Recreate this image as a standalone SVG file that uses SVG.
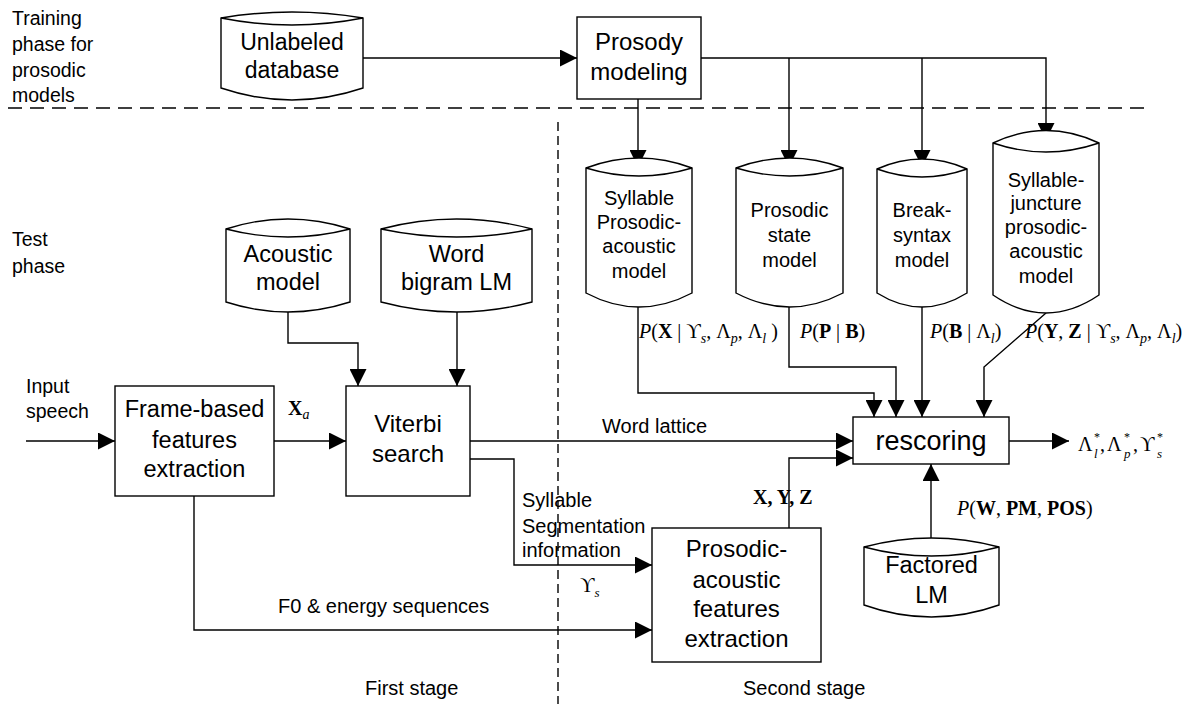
<svg xmlns="http://www.w3.org/2000/svg" width="1197" height="704" viewBox="0 0 1197 704">
<style>
.box{fill:#fff;stroke:#000;stroke-width:1.4}
.cyl{fill:#fff;stroke:#000;stroke-width:1.4}
.ln{fill:none;stroke:#000;stroke-width:1.4}
.arr{fill:none;stroke:#000;stroke-width:1.4;marker-end:url(#ah)}
.dash{fill:none;stroke:#000;stroke-width:1.4}
.t{font-family:"Liberation Sans",Arial,sans-serif;fill:#000}
.m{font-family:"Liberation Serif","Times New Roman",serif;fill:#000;font-size:20px}
.c{text-anchor:middle}
.b{font-weight:bold}
.i{font-style:italic}
</style>
<defs>
<marker id="ah" markerUnits="userSpaceOnUse" markerWidth="17" markerHeight="17" refX="17" refY="8.5" orient="auto">
<path d="M0,0 L17,8.5 L0,17 Z" fill="#000"/>
</marker>
</defs>
<rect width="1197" height="704" fill="#fff"/>

<g id="separators">
<path class="dash" d="M8,108 H1146" stroke-dasharray="14 8"/>
<path class="dash" d="M558,122 V704" stroke-dasharray="9 5"/>
</g>

<g id="phase-labels" class="t" font-size="19.5">
<text x="12" y="25">Training</text>
<text x="12" y="51">phase for</text>
<text x="12" y="77">prosodic</text>
<text x="12" y="102">models</text>
<text x="12" y="246">Test</text>
<text x="12" y="273">phase</text>
<text x="365" y="695" font-size="20">First stage</text>
<text x="743" y="695" font-size="20">Second stage</text>
</g>

<g id="connectors">
<path class="arr" d="M363,58 H577"/>
<path class="arr" d="M638,99 V167"/>
<path class="arr" d="M701,58 H1046 V140"/>
<path class="arr" d="M789,58 V167"/>
<path class="arr" d="M922,58 V167"/>
<path class="arr" d="M638,307 V393 H874 V417"/>
<path class="arr" d="M789,307 V367 H896 V417"/>
<path class="arr" d="M922,307 V417"/>
<path class="arr" d="M1046,313 L984,367 V417"/>
<path class="arr" d="M288,312 V343 H358 V386"/>
<path class="arr" d="M457,312 V386"/>
<path class="arr" d="M26,441 H115"/>
<path class="arr" d="M274,441 H346"/>
<path class="arr" d="M470,441 H853"/>
<path class="arr" d="M470,459 H514 V565 H652"/>
<path class="arr" d="M194,496 V630 H652"/>
<path class="arr" d="M789,528 V458 H853"/>
<path class="arr" d="M931,538 V464"/>
<path class="arr" d="M1009,441 H1069"/>
</g>

<g id="connector-labels">
<text class="t" x="26" y="393" font-size="19.5">Input</text>
<text class="t" x="26" y="418" font-size="19.5">speech</text>
<text class="m" x="288" y="415"><tspan class="b">X</tspan><tspan class="i" font-size="14" dy="4">a</tspan></text>
<text class="t" x="602" y="433" font-size="20">Word lattice</text>
<text class="t" x="522" y="507" font-size="20">Syllable</text>
<text class="t" x="522" y="533" font-size="20">Segmentation</text>
<text class="t" x="522" y="557" font-size="20">information</text>
<text class="m" x="580" y="592">ϒ<tspan class="i" font-size="13" dy="5">s</tspan></text>
<text class="t" x="278" y="613" font-size="20">F0 &amp; energy sequences</text>
<text class="m b" x="753" y="504">X, Y, Z</text>
<text class="m" x="639" y="338"><tspan class="i">P</tspan>(<tspan class="b">X</tspan> | ϒ<tspan class="i" font-size="14" dy="5">s</tspan><tspan dy="-5">, Λ</tspan><tspan class="i" font-size="14" dy="5">p</tspan><tspan dy="-5">, Λ</tspan><tspan class="i" font-size="14" dy="5">l</tspan><tspan dy="-5"> )</tspan></text>
<text class="m" x="800" y="338"><tspan class="i">P</tspan>(<tspan class="b">P</tspan> | <tspan class="b">B</tspan>)</text>
<text class="m" x="930" y="338"><tspan class="i">P</tspan>(<tspan class="b">B</tspan> | Λ<tspan class="i" font-size="14" dy="5">l</tspan><tspan dy="-5">)</tspan></text>
<text class="m" x="1025" y="338"><tspan class="i">P</tspan>(<tspan class="b">Y</tspan>, <tspan class="b">Z</tspan> | ϒ<tspan class="i" font-size="14" dy="5">s</tspan><tspan dy="-5">, Λ</tspan><tspan class="i" font-size="14" dy="5">p</tspan><tspan dy="-5">, Λ</tspan><tspan class="i" font-size="14" dy="5">l</tspan><tspan dy="-5">)</tspan></text>
<text class="m" x="957" y="515"><tspan class="i">P</tspan>(<tspan class="b">W</tspan>, <tspan class="b">PM</tspan>, <tspan class="b">POS</tspan>)</text>
<text class="m" font-size="21"><tspan x="1078" y="451">Λ</tspan><tspan x="1094" y="441" font-size="12">*</tspan><tspan x="1094" y="458" font-size="13" class="i">l</tspan><tspan x="1100" y="451">,</tspan><tspan x="1107" y="451">Λ</tspan><tspan x="1124" y="441" font-size="12">*</tspan><tspan x="1124" y="458" font-size="13" class="i">p</tspan><tspan x="1133" y="451">,</tspan><tspan x="1140" y="451">ϒ</tspan><tspan x="1157" y="441" font-size="12">*</tspan><tspan x="1157" y="458" font-size="13" class="i">s</tspan></text>
</g>

<g id="unlabeled-database">
<path class="cyl" d="M221,18 Q292,6 363,18 L363,88 Q292,112 221,88 Z"/>
<path class="ln" d="M221,18 Q292,32 363,18"/>
<text class="t c" x="292" y="50" font-size="23">Unlabeled</text>
<text class="t c" x="292" y="78" font-size="23">database</text>
</g>

<g id="prosody-modeling">
<rect class="box" x="577" y="17" width="124" height="82"/>
<text class="t c" x="639" y="50" font-size="24">Prosody</text>
<text class="t c" x="639" y="80" font-size="24">modeling</text>
</g>

<g id="syllable-prosodic-acoustic-model">
<path class="cyl" d="M586,168 Q639,148 692,168 L692,293 Q639,321 586,293 Z"/>
<path class="ln" d="M586,168 Q639,184 692,168"/>
<text class="t c" x="639" y="205" font-size="20">Syllable</text>
<text class="t c" x="639" y="229" font-size="20">Prosodic-</text>
<text class="t c" x="639" y="253" font-size="20">acoustic</text>
<text class="t c" x="639" y="278" font-size="20">model</text>
</g>

<g id="prosodic-state-model">
<path class="cyl" d="M736,168 Q789.5,148 843,168 L843,293 Q789.5,321 736,293 Z"/>
<path class="ln" d="M736,168 Q789.5,184 843,168"/>
<text class="t c" x="789.5" y="217" font-size="20">Prosodic</text>
<text class="t c" x="789.5" y="242" font-size="20">state</text>
<text class="t c" x="789.5" y="267" font-size="20">model</text>
</g>

<g id="break-syntax-model">
<path class="cyl" d="M877,169 Q922,149 967,169 L967,293 Q922,321 877,293 Z"/>
<path class="ln" d="M877,169 Q922,185 967,169"/>
<text class="t c" x="922" y="217" font-size="20">Break-</text>
<text class="t c" x="922" y="242" font-size="20">syntax</text>
<text class="t c" x="922" y="267" font-size="20">model</text>
</g>

<g id="syllable-juncture-model">
<path class="cyl" d="M993,143 Q1046,118 1099,143 L1099,295 Q1046,331 993,295 Z"/>
<path class="ln" d="M993,143 Q1046,161 1099,143"/>
<text class="t c" x="1046" y="187" font-size="20">Syllable-</text>
<text class="t c" x="1046" y="210" font-size="20">juncture</text>
<text class="t c" x="1046" y="234" font-size="20">prosodic-</text>
<text class="t c" x="1046" y="258" font-size="20">acoustic</text>
<text class="t c" x="1046" y="283" font-size="20">model</text>
</g>

<g id="acoustic-model">
<path class="cyl" d="M226,229 Q288,209 350,229 L350,302 Q288,322 226,302 Z"/>
<path class="ln" d="M226,229 Q288,245 350,229"/>
<text class="t c" x="288" y="262" font-size="23.5">Acoustic</text>
<text class="t c" x="288" y="290" font-size="23.5">model</text>
</g>

<g id="word-bigram-lm">
<path class="cyl" d="M381,229 Q456.5,209 532,229 L532,302 Q456.5,322 381,302 Z"/>
<path class="ln" d="M381,229 Q456.5,245 532,229"/>
<text class="t c" x="456.5" y="262" font-size="23.5">Word</text>
<text class="t c" x="456.5" y="290" font-size="23.5">bigram LM</text>
</g>

<g id="frame-based-features-extraction">
<rect class="box" x="115" y="386" width="159" height="110"/>
<text class="t c" x="194.5" y="417" font-size="23.5">Frame-based</text>
<text class="t c" x="194.5" y="448" font-size="23.5">features</text>
<text class="t c" x="194.5" y="477" font-size="23.5">extraction</text>
</g>

<g id="viterbi-search">
<rect class="box" x="346" y="386" width="124" height="110"/>
<text class="t c" x="408" y="432" font-size="24">Viterbi</text>
<text class="t c" x="408" y="462" font-size="24">search</text>
</g>

<g id="rescoring">
<rect class="box" x="853" y="417" width="156" height="47"/>
<text class="t c" x="931" y="450" font-size="27">rescoring</text>
</g>

<g id="prosodic-acoustic-features-extraction">
<rect class="box" x="652" y="528" width="169" height="134"/>
<text class="t c" x="736.5" y="557" font-size="24">Prosodic-</text>
<text class="t c" x="736.5" y="588" font-size="24">acoustic</text>
<text class="t c" x="736.5" y="617" font-size="24">features</text>
<text class="t c" x="736.5" y="647" font-size="24">extraction</text>
</g>

<g id="factored-lm">
<path class="cyl" d="M864,547 Q931.5,529 999,547 L999,605 Q931.5,629 864,605 Z"/>
<path class="ln" d="M864,547 Q931.5,565 999,547"/>
<text class="t c" x="931.5" y="573" font-size="23.5">Factored</text>
<text class="t c" x="931.5" y="603" font-size="23.5">LM</text>
</g>
</svg>
